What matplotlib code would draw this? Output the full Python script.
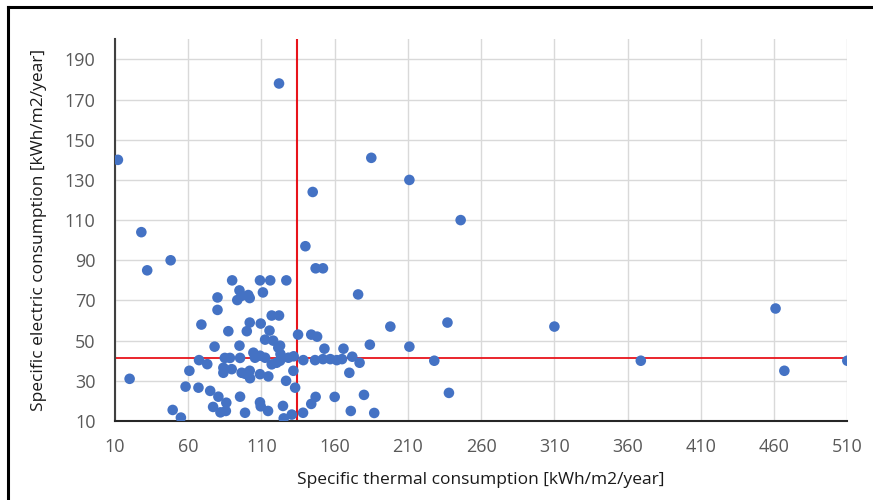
import matplotlib.pyplot as plt
from matplotlib.lines import Line2D

# Données
thermal = [12, 122, 185, 211, 145, 246, 28, 32, 48, 140, 147, 152, 176, 20,
           461, 310, 237, 198, 211, 228, 369, 510, 467, 238, 184, 172, 177,
           170, 180, 171, 187,
           90, 109, 116, 127, 80, 95, 96.5, 101, 93.5, 102, 111, 80, 117, 122,
           69, 102, 109.5, 87.4, 100, 115.5, 112.5, 118, 135, 144, 148,
           78, 95, 121.5, 122.7, 153, 166, 67.4, 73, 85, 88.5, 95.4, 104.5,
           105.6, 112.5, 117, 120.4, 122.7, 128.4, 132, 138.6, 146.6, 152,
           157, 161.4, 165, 109, 123,
           60.8, 84, 89.7, 84, 96.5, 102, 98.8, 102.2, 109, 114.7, 126.8,
           131.8, 133, 58.2, 67, 75, 80.6, 86, 95.4, 77, 82, 85.7, 98.8, 109,
           109.5, 114.5, 49.4, 55, 124.7, 125.2, 130.7, 138.4, 147, 144, 160]
electric = [140, 178, 141, 130, 124, 110, 104, 85, 90, 97, 86, 86, 73, 31,
            66, 57, 59, 57, 47, 40, 40, 40, 35, 24, 48, 42, 39,
            34, 23, 15, 14,
            80, 80, 80, 80, 71.5, 75, 72.3, 72.7, 70.2, 71.2, 74, 65.3, 62.5, 62.5,
            58, 59, 58.5, 54.7, 54.7, 55, 50.5, 50, 53, 53, 52,
            47, 47.5, 46.5, 47.5, 46, 46, 40.3, 38.3, 41.4, 41.4, 41.4, 44,
            41.5, 41.5, 38.2, 39, 40, 41.5, 42.2, 40.3, 40.3, 40.8,
            40.8, 40.3, 40.8, 42.5, 43.3,
            35, 36.5, 35.8, 34, 34, 35, 33.5, 31.3, 33.3, 32.2, 30,
            35, 26.6, 27.1, 26.6, 25, 22.1, 19.1, 22.1, 17, 14.3, 15, 14.1, 19.3,
            17.3, 15, 15.5, 11.7, 17.5, 11.3, 13.2, 14.1, 22, 18.5, 22]

moy_thermal = 134
moy_electric = 41.5

x_ticks = list(range(10, 511, 50))
y_ticks = list(range(10, 191, 20))

plt.rcParams['font.family'] = ['Open Sans', 'DejaVu Sans']

fig = plt.figure(figsize=(8.73, 5), dpi=100)
ax = fig.add_axes([0.1317, 0.158, 0.8389, 0.7634])

ax.scatter(thermal, electric, s=58, color='#4472C4', edgecolors='none', zorder=3)

# Lignes des moyennes
ax.axvline(moy_thermal, color='#E8141B', linewidth=1.5, zorder=2)
ax.axhline(moy_electric, color='#E8141B', linewidth=1.3, zorder=2)

ax.set_xlim(10, 510)
ax.set_ylim(10, 200)
ax.set_xticks(x_ticks)
ax.set_yticks(y_ticks)
ax.grid(True, color='#D9D9D9', linewidth=1, zorder=0)
ax.set_axisbelow(True)
ax.tick_params(length=0, labelsize=13, colors='#595959', pad=12)
ax.tick_params(axis='y', pad=14)

for s in ['top', 'right']:
    ax.spines[s].set_visible(False)
ax.spines['left'].set_color('#404040')
ax.spines['left'].set_linewidth(1.5)
ax.spines['bottom'].set_color('#262626')
ax.spines['bottom'].set_linewidth(1.5)

ax.set_xlabel('Specific thermal consumption [kWh/m2/year]', fontsize=12.5, color='#1a1a1a', labelpad=12)
ax.set_ylabel('Specific electric consumption [kWh/m2/year]', fontsize=12.5, color='#1a1a1a', labelpad=13)

# Cadre noir (haut et gauche)
fig.add_artist(Line2D([0.0092, 1.0], [0.986, 0.986], color='black', linewidth=2.2, transform=fig.transFigure))
fig.add_artist(Line2D([0.0092, 0.0092], [0.0, 0.986], color='black', linewidth=2.2, transform=fig.transFigure))

fig.savefig('out.png', dpi=100)
